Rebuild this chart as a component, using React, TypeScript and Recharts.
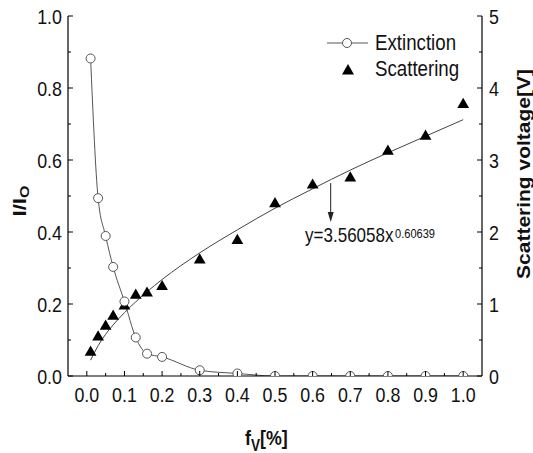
import React from "react";
import {
  ComposedChart,
  Line,
  Scatter,
  XAxis,
  YAxis,
  ZAxis,
  Label,
  Legend,
  ReferenceLine,
  ReferenceDot,
} from "recharts";

// volume fraction f_V [%]
const fv = [0.01, 0.03, 0.05, 0.07, 0.1, 0.13, 0.16, 0.2, 0.3, 0.4, 0.5, 0.6, 0.7, 0.8, 0.9, 1.0];
// I/Io (left axis)
const extinction = [0.882, 0.494, 0.389, 0.303, 0.207, 0.107, 0.062, 0.053, 0.016, 0.007, 0, 0, 0, 0, 0, 0];
// scattering voltage [V] (right axis)
const scattering = [0.33, 0.54, 0.69, 0.83, 0.97, 1.12, 1.15, 1.24, 1.61, 1.88, 2.39, 2.65, 2.75, 3.12, 3.33, 3.77];
// power-law fit
const fitCurve = [0.22, 0.42, 0.58, 0.71, 0.88, 1.03, 1.17, 1.34, 1.71, 2.03, 2.33, 2.6, 2.86, 3.1, 3.33, 3.56];

const xTicks = [0, 0.05, 0.1, 0.15, 0.2, 0.25, 0.3, 0.35, 0.4, 0.45, 0.5, 0.55, 0.6, 0.65, 0.7, 0.75, 0.8, 0.85, 0.9, 0.95, 1.0];
const leftTicks = [0, 0.1, 0.2, 0.3, 0.4, 0.5, 0.6, 0.7, 0.8, 0.9, 1.0];
const rightTicks = [0, 0.5, 1, 1.5, 2, 2.5, 3, 3.5, 4, 4.5, 5];

const equation = { base: "y=3.56058x", power: "0.60639", fx: 0.58, fy: 1.86 };
const arrowSeg = [
  { x: 0.648, y: 2.68 },
  { x: 0.648, y: 2.14 },
];

const rows = fv.map((x, i) => ({
  x,
  ext: extinction[i],
  sca: scattering[i],
  fit: fitCurve[i],
}));

const FONT = "Arial, 'Liberation Sans', Helvetica, sans-serif";
const SX = 0.85; // the original figure is squeezed horizontally
const INK = "#111";

const isMult = (v: number, step: number) => Math.abs(v / step - Math.round(v / step)) < 1e-6;

/* eslint-disable @typescript-eslint/no-explicit-any */
function XTick({ x, y, payload }: any) {
  const v = payload.value;
  const major = isMult(v, 0.1);
  return (
    <g>
      <line x1={x} x2={x} y1={y} y2={y - (major ? 5 : 3)} stroke="#000" />
      {major && (
        <text
          transform={`translate(${x},${y + 26}) scale(${SX},1)`}
          textAnchor="middle"
          fontSize={21}
          fontFamily={FONT}
          fill={INK}
        >
          {v.toFixed(1)}
        </text>
      )}
    </g>
  );
}

function LeftTick({ x, y, payload }: any) {
  const v = payload.value;
  const major = isMult(v, 0.2);
  return (
    <g>
      <line x1={x} x2={x + (major ? 5 : 3)} y1={y} y2={y} stroke="#000" />
      {major && (
        <text
          transform={`translate(${x - 6},${y + 7.5}) scale(${SX},1)`}
          textAnchor="end"
          fontSize={21}
          fontFamily={FONT}
          fill={INK}
        >
          {v.toFixed(1)}
        </text>
      )}
    </g>
  );
}

function RightTick({ x, y, payload }: any) {
  const v = payload.value;
  const major = isMult(v, 1);
  return (
    <g>
      <line x1={x} x2={x - (major ? 5 : 3)} y1={y} y2={y} stroke="#000" />
      {major && (
        <text
          transform={`translate(${x + 7},${y + 7.5}) scale(${SX},1)`}
          textAnchor="start"
          fontSize={21}
          fontFamily={FONT}
          fill={INK}
        >
          {v}
        </text>
      )}
    </g>
  );
}

function LeftTitle({ viewBox }: any) {
  const cx = viewBox.x + 20;
  const cy = viewBox.y + viewBox.height / 2 + 5;
  return (
    <text
      transform={`translate(${cx},${cy}) scale(${SX},1) rotate(-90)`}
      textAnchor="middle"
      dominantBaseline="central"
      fontSize={22}
      fontWeight="bold"
      fontFamily={FONT}
      fill={INK}
    >
      I/I
      <tspan fontSize={16} dy={5}>
        O
      </tspan>
    </text>
  );
}

function RightTitle({ viewBox }: any) {
  const cx = viewBox.x + 42;
  const cy = viewBox.y + viewBox.height / 2 - 22;
  return (
    <text
      transform={`translate(${cx},${cy}) scale(${SX},1) rotate(-90)`}
      textAnchor="middle"
      dominantBaseline="central"
      fontSize={21}
      fontWeight="bold"
      fontFamily={FONT}
      fill={INK}
    >
      Scattering voltage[V]
    </text>
  );
}

function BottomTitle({ viewBox }: any) {
  return (
    <text
      transform={`translate(${viewBox.x + 177},${viewBox.y + 69}) scale(${SX},1)`}
      textAnchor="start"
      fontSize={21}
      fontWeight="bold"
      fontFamily={FONT}
      fill={INK}
    >
      f
      <tspan fontSize={16} dy={6}>
        V
      </tspan>
      <tspan dy={-6}>[%]</tspan>
    </text>
  );
}

function Arrow({ x1, y1, x2, y2 }: any) {
  return (
    <g>
      <line x1={x1} y1={y1} x2={x2} y2={y2 - 8} stroke="#222" strokeWidth={1} />
      <polygon points={`${x2 - 3},${y2 - 10} ${x2 + 3},${y2 - 10} ${x2},${y2}`} fill="#222" />
    </g>
  );
}

function Equation({ cx, cy }: any) {
  return (
    <text
      transform={`translate(${cx},${cy}) scale(${SX},1)`}
      fontFamily={FONT}
      fontSize={20}
      fill={INK}
    >
      {equation.base}
      <tspan fontSize={13} dx={2} dy={-4}>
        {equation.power}
      </tspan>
    </text>
  );
}

function LegendBox() {
  return (
    <svg width={180} height={60} style={{ display: "block" }}>
      <line x1={5} x2={46} y1={15} y2={15} stroke="#555" />
      <circle cx={25} cy={15} r={4.5} fill="#fff" stroke="#555" />
      <text transform={`translate(53,21.5) scale(${SX},1)`} fontSize={22} fontFamily={FONT} fill={INK}>
        Extinction
      </text>
      <polygon points="26,36 20,46.5 32,46.5" fill="#000" />
      <text transform={`translate(53,48) scale(${SX},1)`} fontSize={22} fontFamily={FONT} fill={INK}>
        Scattering
      </text>
    </svg>
  );
}

function ExtDot({ cx, cy }: any) {
  return <circle cx={cx} cy={cy} r={4.5} fill="#fff" stroke="#555" strokeWidth={1} />;
}
/* eslint-enable @typescript-eslint/no-explicit-any */

export default function App() {
  return (
    <div style={{ position: "absolute", left: 0, top: 0, width: 533, height: 453, background: "#fff" }}>
      <ComposedChart width={533} height={453} data={rows} margin={{ top: 16, right: 0, bottom: 0, left: 0 }}>
        <XAxis
          dataKey="x"
          type="number"
          domain={[-0.05, 1.05]}
          ticks={xTicks}
          interval={0}
          height={77}
          tickSize={0}
          tickMargin={0}
          tickLine={false}
          tick={XTick}
          axisLine={{ stroke: "#000", strokeWidth: 1.2 }}
        >
          <Label content={BottomTitle} />
        </XAxis>
        <XAxis
          xAxisId="top"
          orientation="top"
          type="number"
          domain={[-0.05, 1.05]}
          height={0}
          tick={false}
          tickLine={false}
          axisLine={{ stroke: "#000", strokeWidth: 1.2 }}
        />
        <YAxis
          yAxisId="left"
          type="number"
          domain={[0, 1]}
          allowDataOverflow
          ticks={leftTicks}
          interval={0}
          width={68}
          tickSize={0}
          tickMargin={0}
          tickLine={false}
          tick={LeftTick}
          axisLine={{ stroke: "#000", strokeWidth: 1.2 }}
        >
          <Label content={LeftTitle} />
        </YAxis>
        <YAxis
          yAxisId="right"
          orientation="right"
          type="number"
          domain={[0, 5]}
          ticks={rightTicks}
          interval={0}
          width={51}
          tickSize={0}
          tickMargin={0}
          tickLine={false}
          tick={RightTick}
          axisLine={{ stroke: "#000", strokeWidth: 1.2 }}
        >
          <Label content={RightTitle} />
        </YAxis>
        <ZAxis range={[60, 60]} />
        <Legend
          layout="vertical"
          align="center"
          verticalAlign="middle"
          wrapperStyle={{ top: 28, left: 322 }}
          content={LegendBox}
        />
        <Line
          yAxisId="right"
          type="monotone"
          dataKey="fit"
          stroke="#444"
          strokeWidth={1}
          dot={false}
          activeDot={false}
          isAnimationActive={false}
          legendType="none"
        />
        <Line
          yAxisId="left"
          type="monotone"
          dataKey="ext"
          name="Extinction"
          stroke="#555"
          strokeWidth={1}
          dot={ExtDot}
          activeDot={false}
          isAnimationActive={false}
        />
        <Scatter
          yAxisId="right"
          data={rows}
          dataKey="sca"
          name="Scattering"
          shape="triangle"
          fill="#000"
          isAnimationActive={false}
        />
        <ReferenceLine yAxisId="right" segment={arrowSeg} shape={Arrow} />
        <ReferenceDot yAxisId="right" x={equation.fx} y={equation.fy} r={0} shape={Equation} />
      </ComposedChart>
    </div>
  );
}
